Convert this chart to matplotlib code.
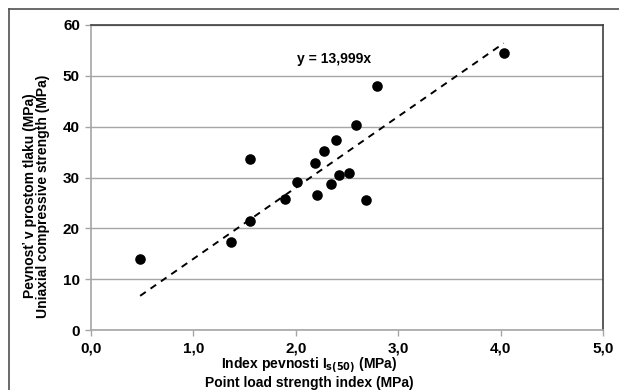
import matplotlib
matplotlib.use("Agg")
import matplotlib.pyplot as plt
from matplotlib.lines import Line2D
from matplotlib.ticker import FuncFormatter
import numpy as np

# ── data ────────────────────────────────────────────────────────────────────
is50 = [0.48, 1.37, 1.556, 1.556, 1.895, 2.015, 2.188, 2.211, 2.28,
        2.34, 2.39, 2.42, 2.52, 2.59, 2.69, 2.79, 4.03]
ucs = [13.9, 17.3, 21.4, 33.7, 25.8, 29.1, 32.8, 26.6, 35.3,
       28.7, 37.3, 30.5, 30.9, 40.3, 25.5, 48.0, 54.4]
slope = 13.999
x_ticks = [0, 1, 2, 3, 4, 5]
y_ticks = [0, 10, 20, 30, 40, 50, 60]

plt.rcParams["font.family"] = ["Liberation Sans Narrow", "Liberation Sans", "DejaVu Sans"]
plt.rcParams["font.weight"] = "bold"
plt.rcParams["mathtext.fontset"] = "custom"
plt.rcParams["mathtext.bf"] = "Liberation Sans Narrow:bold"
plt.rcParams["mathtext.rm"] = "Liberation Sans Narrow:bold"

fig = plt.figure(figsize=(6.19, 3.90), dpi=100)
ax = fig.add_axes([91 / 619, 1 - 330 / 390, 512 / 619, 305 / 390])

grid_c = "#a6a6a6"
ax.grid(axis="y", color=grid_c, lw=1.0)
ax.set_axisbelow(True)

# trend line through the origin, drawn over the data range
xs = np.array([min(is50), max(is50)])
ax.plot(xs, slope * xs, ls=(0, (3.5, 3)), color="black", lw=1.4, zorder=2)
ax.scatter(is50, ucs, s=58, color="black", zorder=3, linewidths=0)

ax.text(2.37, 53.4, "y = 13,999x", ha="center", va="center", fontsize=10,
        fontweight="bold")

ax.set_xlim(0, 5)
ax.set_ylim(0, 60)
ax.set_xticks(x_ticks)
ax.set_yticks(y_ticks)
ax.xaxis.set_major_formatter(FuncFormatter(lambda v, _: f"{v:.1f}".replace(".", ",")))
ax.tick_params(labelsize=11, length=4, width=1, color=grid_c, pad=4)

for side in ("left", "bottom"):
    ax.spines[side].set_color(grid_c)
    ax.spines[side].set_linewidth(1.2)
for side in ("top", "right"):
    ax.spines[side].set_color("#404040")
    ax.spines[side].set_linewidth(1.2)

# axis titles, two lines each
fig.text(30 / 619, 1 - 196 / 390, "Pevnosť v prostom tlaku (MPa)", rotation=90,
         ha="center", va="center", fontsize=10, fontweight="bold")
fig.text(43 / 619, 1 - 196 / 390, "Uniaxial compressive strength (MPa)", rotation=90,
         ha="center", va="center", fontsize=10, fontweight="bold")
fig.text(309 / 619, 1 - 365 / 390, r"Index pevnosti I$_{\mathbf{s(50)}}$ (MPa)",
         ha="center", va="center", fontsize=10, fontweight="bold")
fig.text(309 / 619, 1 - 383 / 390, "Point load strength index (MPa)",
         ha="center", va="center", fontsize=10, fontweight="bold")

# outer chart-area frame (top and left edges visible)
frame_c = "#505050"
fig.add_artist(Line2D([9 / 619, 1.0], [1 - 9 / 390, 1 - 9 / 390],
                      transform=fig.transFigure, color=frame_c, lw=1.2))
fig.add_artist(Line2D([9 / 619, 9 / 619], [0, 1 - 9 / 390],
                      transform=fig.transFigure, color=frame_c, lw=1.2))

fig.savefig("out.png", dpi=100)
